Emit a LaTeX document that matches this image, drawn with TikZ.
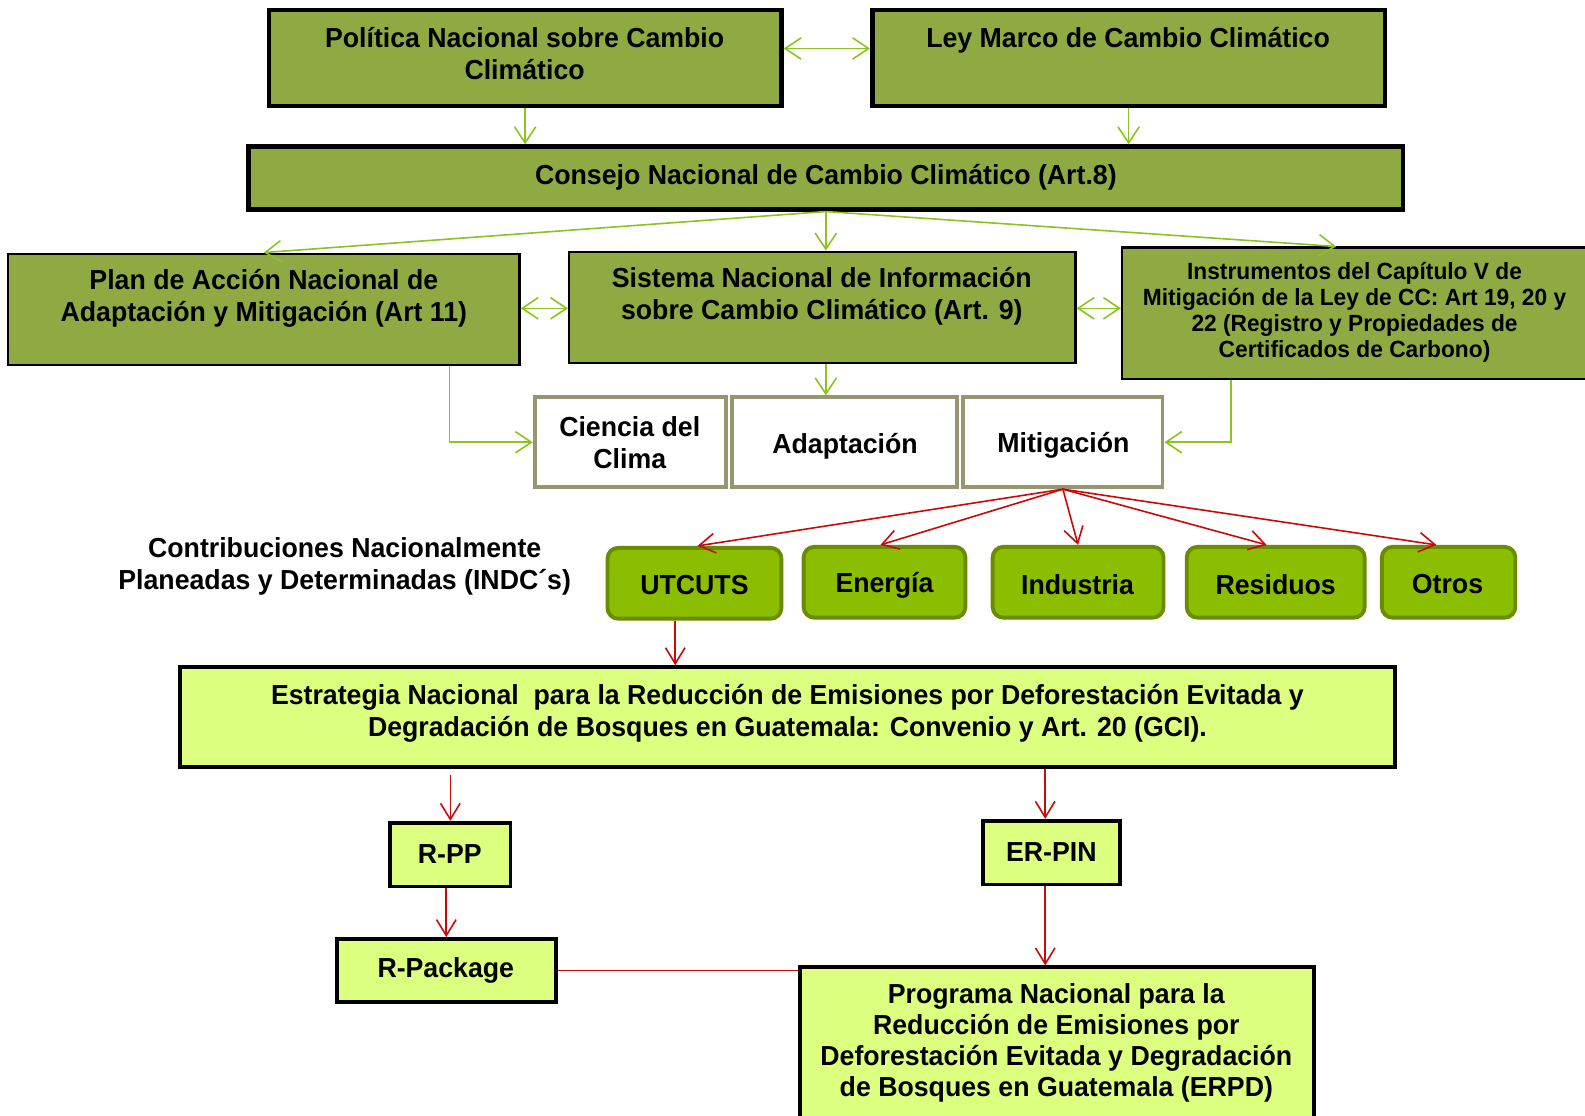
\documentclass[tikz,border=0pt]{standalone}
\usepackage{fontspec}
\setmainfont{Liberation Sans}[FakeStretch=0.97]
\usetikzlibrary{arrows.meta,fit,calc}
\definecolor{olv}{RGB}{143,170,66}
\definecolor{grn}{RGB}{140,195,30}
\definecolor{lime}{RGB}{140,190,0}
\definecolor{limeb}{RGB}{106,140,0}
\definecolor{gryb}{RGB}{150,150,112}
\definecolor{lyel}{RGB}{221,255,128}
\definecolor{redc}{RGB}{200,10,10}
\tikzset{
  obox/.style={draw=black, fill=olv, line width=2.6pt, inner sep=0pt},
  oboxthin/.style={draw=black, fill=olv, line width=1.3pt, inner sep=0pt},
  wbox/.style={draw=gryb, fill=white, line width=2.2pt, inner sep=0pt},
  rbox/.style={draw=limeb, fill=lime, line width=2.2pt, rounded corners=6pt, inner sep=0pt},
  ybox/.style={draw=black, fill=lyel, line width=2.2pt, inner sep=0pt},
  txt/.style={font=\fontsize{15.5}{18.2}\selectfont\bfseries, align=center, inner sep=0pt},
  stxt/.style={font=\fontsize{13.2}{14.8}\selectfont\bfseries, align=center, inner sep=0pt},
  garrow/.style={draw=grn, line width=0.9pt, -{Straight Barb[length=9pt,width=12pt]}},
  gdarrow/.style={draw=grn, line width=0.9pt, {Straight Barb[length=9pt,width=12pt]}-{Straight Barb[length=9pt,width=12pt]}},
  rarrow/.style={draw=redc, line width=0.9pt, -{Straight Barb[length=9pt,width=11pt]}},
  rline/.style={draw=redc, line width=0.9pt}
}
\begin{document}
\begin{tikzpicture}[x=0.02cm,y=-0.02cm]
\useasboundingbox (0,0) rectangle (1568,1104);

% top row
\node[obox, fit={(266,10)(773,105)}] (politica) {};
\node[txt] (politicaT) at (519,53) {Política Nacional sobre Cambio\\Climático};
\node[obox, fit={(863,10)(1370,105)}] (ley) {};
\node[txt] (leyT) at (1116,40) {Ley Marco de Cambio Climático};
\draw[gdarrow] (politica.east |- 0,48) -- (ley.west |- 0,48);

% consejo
\node[obox, fit={(246,145)(1388,207)}] (consejo) {};
\node[txt] (consejoT) at (817,175) {Consejo Nacional de Cambio Climático (Art.8)};
\draw[garrow] (politica.south) -- (politica.south |- consejo.north);
\draw[garrow] (ley.south) -- (ley.south |- consejo.north);

% third row
\node[oboxthin, fit={(8,251)(514,361)}] (plan) {};
\node[txt] (planT) at (261,295) {Plan de Acción Nacional de\\Adaptación y Mitigación (Art 11)};
\node[oboxthin, fit={(563,249)(1064,359)}] (sistema) {};
\node[txt] (sistemaT) at (813,293) {Sistema Nacional de Información\\sobre Cambio Climático (Art. 9)};
\node[oboxthin, fit={(1110,245)(1580,375)}] (instr) {};
\node[stxt] (instrT) at (1340,309) {Instrumentos del Capítulo V de\\Mitigación de la Ley de CC: Art 19, 20 y\\22 (Registro y Propiedades de\\Certificados de Carbono)};
\coordinate (instrIn) at ($(instr.north west)+(213,0)$);

\draw[garrow] (consejo.south) -- (plan.north);
\draw[garrow] (consejo.south) -- (consejo.south |- sistema.north);
\draw[garrow] (consejo.south) -- (instrIn);
\draw[gdarrow] (plan.east |- 0,305) -- (sistema.west |- 0,305);
\draw[gdarrow] (sistema.east |- 0,305) -- (instr.west |- 0,305);

% white boxes
\node[wbox, fit={(529,393)(718,482)}] (ciencia) {};
\node[txt] (cienciaT) at (623,438) {Ciencia del\\Clima};
\node[wbox, fit={(724,393)(947,482)}] (adapt) {};
\node[txt] (adaptT) at (836,441) {Adaptación};
\node[wbox, fit={(953,393)(1150,482)}] (mitig) {};
\node[txt] (mitigT) at (1052,441) {Mitigación};

\draw[garrow] (sistema.south -| 817,0) -- (adapt.north -| 817,0);
\coordinate (planOut) at ($(plan.south west)+(438,0)$);
\draw[garrow] (planOut) |- (ciencia.west);
\coordinate (instrOut) at ($(instr.south west)+(109,0)$);
\draw[garrow] (instrOut) |- (mitig.east);

% INDC
\node[txt] (indc) at (341,560) {Contribuciones Nacionalmente\\Planeadas y Determinadas (INDC´s)};

% sector boxes
\node[rbox, fit={(601,542)(773,612)}] (utcuts) {};
\node[txt] (utcutsT) at (687,579) {UTCUTS};
\node[rbox, fit={(795,541)(955,611)}] (energia) {};
\node[txt] (energiaT) at (875,579) {Energía};
\node[rbox, fit={(982,541)(1151,611)}] (industria) {};
\node[txt] (industriaT) at (1066,578) {Industria};
\node[rbox, fit={(1174,541)(1350,611)}] (residuos) {};
\node[txt] (residuosT) at (1262,578) {Residuos};
\node[rbox, fit={(1367,541)(1499,611)}] (otros) {};
\node[txt] (otrosT) at (1432,578) {Otros};

\draw[rarrow] (mitig.south) -- ($(utcuts.north)+(3,0)$);
\draw[rarrow] (mitig.south) -- ($(energia.north)+(-4,0)$);
\draw[rarrow] (mitig.south) -- (industria.north);
\draw[rarrow] (mitig.south) -- ($(residuos.north)+(-9,0)$);
\draw[rarrow] (mitig.south) -- ($(otros.north)+(-12,0)$);

% estrategia
\node[ybox, fit={(178,660)(1380,759)}] (estr) {};
\node[txt] (estrT) at (779,706) {Estrategia Nacional\ \ para la Reducción de Emisiones por Deforestación Evitada y\\Degradación de Bosques en Guatemala: Convenio y Art. 20 (GCI).};
\coordinate (u1) at ($(utcuts.south)+(-19,0)$);
\draw[rarrow] (u1) -- (u1 |- estr.north);

% lower boxes
\node[ybox, fit={(386,814)(505,877)}] (rpp) {};
\node[txt] (rppT) at (445,845) {R-PP};
\node[ybox, fit={(972,812)(1108,875)}] (erpin) {};
\node[txt] (erpinT) at (1040,843) {ER-PIN};
\node[ybox, fit={(333,929)(550,991)}] (rpkg) {};
\node[txt] (rpkgT) at (441,960) {R-Package};
\node[ybox, fit={(791,957)(1300,1115)}] (erpd) {};
\node[txt, font=\fontsize{15.5}{17.4}\selectfont\bfseries] (erpdT) at (1045,1032) {Programa Nacional para la\\Reducción de Emisiones por\\Deforestación Evitada y Degradación\\de Bosques en Guatemala (ERPD)};

\coordinate (r1) at ($(rpp.north |- estr.south)+(0,6)$);
\draw[rarrow] (r1) -- (rpp.north);
\coordinate (e0) at ($(erpin.north)+(-6,0)$);
\draw[rarrow] (e0 |- estr.south) -- (e0);
\draw[rarrow] (rpp.south -| rpkg.north) -- (rpkg.north);
\coordinate (e1) at ($(erpin.south)+(-6,0)$);
\draw[rarrow] (e1) -- (e1 |- erpd.north);
\draw[rline] (rpkg.east) -- (rpkg.east -| erpd.west);
\end{tikzpicture}
\end{document}
